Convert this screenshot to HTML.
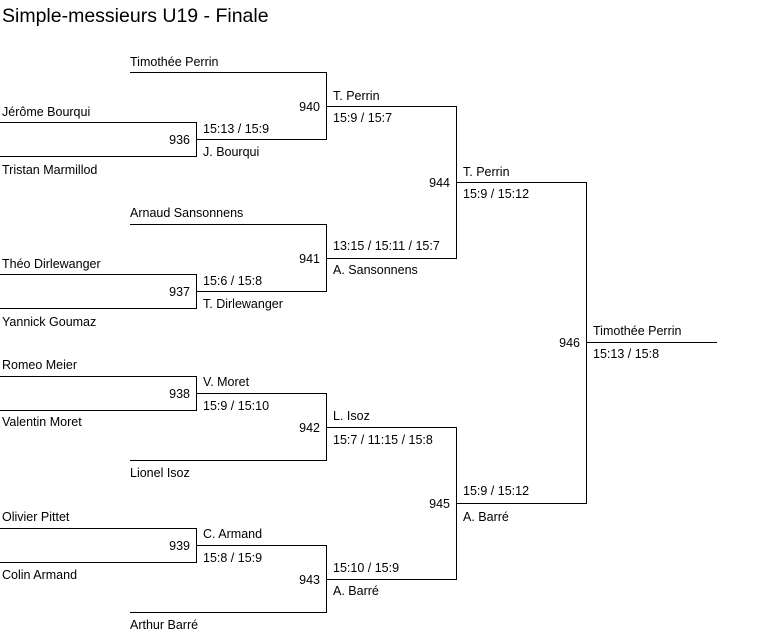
<!DOCTYPE html>
<html><head><meta charset="utf-8"><style>
html,body{margin:0;padding:0;background:#fff;width:783px;height:640px;overflow:hidden}
svg{display:block}
text{font-family:"Liberation Sans",Arial,sans-serif;font-size:12.5px;fill:#000}
.r{text-anchor:end}
</style></head><body>
<svg width="783" height="640" xmlns="http://www.w3.org/2000/svg">
<text x="2" y="22" style="font-size:19.5px">Simple-messieurs U19 - Finale</text>
<g stroke="#000" stroke-width="1" fill="none">
<path d="M0 122.5H196.5V156.5H0"/>
<path d="M0 274.5H196.5V308.5H0"/>
<path d="M0 376.5H196.5V410.5H0"/>
<path d="M0 528.5H196.5V562.5H0"/>
<path d="M130 72.5H326.5V139.5H196.5"/>
<path d="M130 224.5H326.5V291.5H196.5"/>
<path d="M196.5 393.5H326.5V460.5H130"/>
<path d="M196.5 545.5H326.5V612.5H130"/>
<path d="M326.5 106.5H456.5V258.5H326.5"/>
<path d="M326.5 427.5H456.5V579.5H326.5"/>
<path d="M456.5 182.5H586.5V503.5H456.5"/>
<path d="M586.5 342.5H717"/>
</g>
<g transform="translate(0,1)">
<text x="130" y="65">Timothée Perrin</text>
<text class="r" x="320" y="110">940</text>
<text x="333" y="99">T. Perrin</text>
<text x="333" y="121">15:9 / 15:7</text>
<text x="2" y="115">Jérôme Bourqui</text>
<text class="r" x="190" y="143">936</text>
<text x="203" y="132">15:13 / 15:9</text>
<text x="203" y="155">J. Bourqui</text>
<text x="2" y="173">Tristan Marmillod</text>
<text class="r" x="450" y="186">944</text>
<text x="463" y="175">T. Perrin</text>
<text x="463" y="197">15:9 / 15:12</text>
<text x="130" y="216">Arnaud Sansonnens</text>
<text class="r" x="320" y="262">941</text>
<text x="333" y="249">13:15 / 15:11 / 15:7</text>
<text x="333" y="273">A. Sansonnens</text>
<text x="2" y="267">Théo Dirlewanger</text>
<text class="r" x="190" y="295">937</text>
<text x="203" y="284">15:6 / 15:8</text>
<text x="203" y="307">T. Dirlewanger</text>
<text x="2" y="325">Yannick Goumaz</text>
<text class="r" x="580" y="346">946</text>
<text x="593" y="334">Timothée Perrin</text>
<text x="593" y="357">15:13 / 15:8</text>
<text x="2" y="368">Romeo Meier</text>
<text class="r" x="190" y="397">938</text>
<text x="203" y="385">V. Moret</text>
<text x="203" y="409">15:9 / 15:10</text>
<text x="2" y="425">Valentin Moret</text>
<text class="r" x="320" y="431">942</text>
<text x="333" y="419">L. Isoz</text>
<text x="333" y="443">15:7 / 11:15 / 15:8</text>
<text x="130" y="476">Lionel Isoz</text>
<text class="r" x="450" y="507">945</text>
<text x="463" y="494">15:9 / 15:12</text>
<text x="463" y="520">A. Barré</text>
<text x="2" y="520">Olivier Pittet</text>
<text class="r" x="190" y="549">939</text>
<text x="203" y="537">C. Armand</text>
<text x="203" y="561">15:8 / 15:9</text>
<text x="2" y="578">Colin Armand</text>
<text class="r" x="320" y="583">943</text>
<text x="333" y="571">15:10 / 15:9</text>
<text x="333" y="594">A. Barré</text>
<text x="130" y="628">Arthur Barré</text>
</g>
</svg>
</body></html>
